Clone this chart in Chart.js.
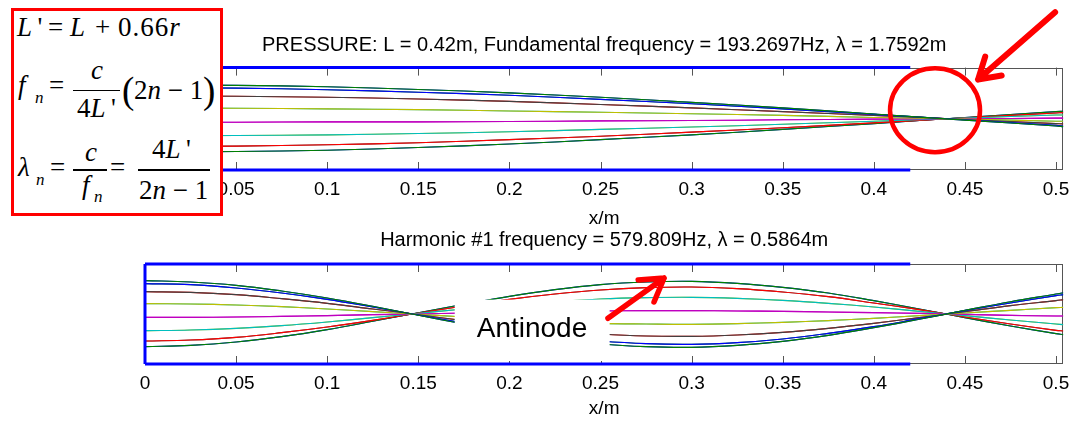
<!DOCTYPE html>
<html>
<head>
<meta charset="utf-8">
<script src="https://cdn.jsdelivr.net/npm/chart.js@4.4.0/dist/chart.umd.min.js"></script>
<style>
body { margin:0; background:#fff; width:1081px; height:427px; overflow:hidden; position:relative; }
canvas { position:absolute; left:0; }
#topChart { top:0; }
#bottomChart { top:214px; }
.box { position:absolute; left:11px; top:8px; width:212px; height:208px; box-sizing:border-box; border:3px solid #ff0000; background:#fff; z-index:2; }
.m { position:absolute; font-family:'Liberation Serif','Times New Roman',serif; font-size:27px; line-height:1; white-space:nowrap; color:#000; z-index:3; }
.s { font-size:17px; }
.p { font-size:37px; }
.bar { position:absolute; height:1.5px; background:#000; z-index:3; }
</style>
</head>
<body>
<canvas id="topChart" width="1081" height="231"></canvas>
<canvas id="bottomChart" width="1081" height="213"></canvas>

<!-- formula box -->
<div class="box"></div>
<div class="m" style="left:17px;top:14.4px"><i>L</i>&thinsp;'</div>
<div class="m" style="left:48px;top:14.4px">=</div>
<div class="m" style="left:70px;top:14.4px"><i>L</i></div>
<div class="m" style="left:95px;top:14.4px">+</div>
<div class="m" style="left:118px;top:14.4px;letter-spacing:1px">0.66<i>r</i></div>

<div class="m" style="left:18px;top:72.4px"><i>f</i></div>
<div class="m s" style="left:35px;top:88.8px"><i>n</i></div>
<div class="m" style="left:49px;top:72.4px">=</div>
<div class="bar" style="left:73px;top:89.5px;width:47px"></div>
<div class="m" style="left:91px;top:57.4px"><i>c</i></div>
<div class="m" style="left:77px;top:95.4px">4<i>L</i>&thinsp;'</div>
<div class="m p" style="left:122px;top:71.5px">(</div>
<div class="m" style="left:134px;top:77.4px">2<i>n</i> − 1</div>
<div class="m p" style="left:203px;top:71.5px">)</div>

<div class="m" style="left:18px;top:154.4px"><i>λ</i></div>
<div class="m s" style="left:36px;top:170.8px"><i>n</i></div>
<div class="m" style="left:50px;top:154.4px">=</div>
<div class="bar" style="left:73px;top:169px;width:34px"></div>
<div class="m" style="left:85px;top:139.4px"><i>c</i></div>
<div class="m" style="left:82px;top:172.4px"><i>f</i></div>
<div class="m s" style="left:94px;top:187.8px"><i>n</i></div>
<div class="m" style="left:110px;top:154.4px">=</div>
<div class="bar" style="left:138px;top:169px;width:72px"></div>
<div class="m" style="left:152px;top:136.4px">4<i>L</i>&thinsp;'</div>
<div class="m" style="left:139px;top:177.4px">2<i>n</i> − 1</div>

<script>
// sample positions along the tube (m)
const xTop = [0, 0.05, 0.1, 0.15, 0.2, 0.25, 0.3, 0.35, 0.4, 0.45, 0.5, 0.504];
const xBottom = [0, 0.025, 0.05, 0.075, 0.1, 0.125, 0.15, 0.175, 0.2, 0.225, 0.25, 0.275,
                 0.3, 0.325, 0.35, 0.375, 0.4, 0.425, 0.45, 0.475, 0.5, 0.504];

// fundamental, pressure at each time step level
const fundA = [1.00, 0.98, 0.94, 0.86, 0.76, 0.63, 0.48, 0.32, 0.14, -0.04, -0.21, -0.23];
const fundB = [0.91, 0.90, 0.85, 0.78, 0.69, 0.57, 0.44, 0.29, 0.13, -0.03, -0.19, -0.21];
const fundC = [0.67, 0.66, 0.63, 0.58, 0.51, 0.42, 0.32, 0.21, 0.10, -0.02, -0.14, -0.15];
const fundD = [0.31, 0.31, 0.29, 0.27, 0.23, 0.19, 0.15, 0.10, 0.04, -0.01, -0.07, -0.07];
const fundE = [-0.10, -0.10, -0.09, -0.09, -0.08, -0.06, -0.05, -0.03, -0.01, 0.00, 0.02, 0.02];
const fundF = [-0.50, -0.49, -0.47, -0.43, -0.38, -0.31, -0.24, -0.16, -0.07, 0.02, 0.11, 0.11];
const fundG = [-0.81, -0.80, -0.76, -0.70, -0.61, -0.51, -0.39, -0.26, -0.12, 0.03, 0.17, 0.18];
const fundH = [-0.98, -0.96, -0.92, -0.84, -0.74, -0.61, -0.47, -0.31, -0.14, 0.04, 0.21, 0.22];

// harmonic #1
const harmA = [1.00, 0.96, 0.86, 0.69, 0.48, 0.23, -0.04, -0.30, -0.54, -0.75, -0.90, -0.98, -1.00, -0.94, -0.82, -0.64, -0.41, -0.16, 0.11, 0.37, 0.60, 0.64];
const harmB = [0.91, 0.88, 0.78, 0.63, 0.44, 0.21, -0.03, -0.27, -0.49, -0.68, -0.81, -0.89, -0.91, -0.86, -0.75, -0.58, -0.38, -0.14, 0.10, 0.33, 0.55, 0.58];
const harmC = [0.67, 0.65, 0.58, 0.46, 0.32, 0.15, -0.02, -0.20, -0.36, -0.50, -0.60, -0.66, -0.67, -0.63, -0.55, -0.43, -0.28, -0.11, 0.07, 0.25, 0.40, 0.43];
const harmD = [0.31, 0.30, 0.27, 0.22, 0.15, 0.07, -0.01, -0.09, -0.17, -0.23, -0.28, -0.30, -0.31, -0.29, -0.25, -0.20, -0.13, -0.05, 0.03, 0.11, 0.19, 0.20];
const harmE = [-0.10, -0.10, -0.09, -0.07, -0.05, -0.02, 0.00, 0.03, 0.05, 0.07, 0.09, 0.10, 0.10, 0.09, 0.08, 0.06, 0.04, 0.02, -0.01, -0.04, -0.06, -0.06];
const harmF = [-0.50, -0.48, -0.43, -0.35, -0.24, -0.11, 0.02, 0.15, 0.27, 0.37, 0.45, 0.49, 0.50, 0.47, 0.41, 0.32, 0.21, 0.08, -0.05, -0.18, -0.30, -0.32];
const harmG = [-0.81, -0.78, -0.70, -0.56, -0.39, -0.19, 0.03, 0.24, 0.44, 0.60, 0.72, 0.79, 0.81, 0.76, 0.66, 0.52, 0.33, 0.13, -0.09, -0.30, -0.49, -0.51];
const harmH = [-0.98, -0.94, -0.84, -0.68, -0.47, -0.22, 0.04, 0.29, 0.53, 0.73, 0.88, 0.96, 0.98, 0.92, 0.80, 0.63, 0.40, 0.15, -0.11, -0.36, -0.59, -0.62];

// which level each of the 16 time steps uses (0..360 deg)
const stepLevel = [0, 1, 2, 3, 4, 5, 6, 7, 7, 6, 5, 4, 3, 2, 1, 0];
const tubeLength = 0.42;
const xTickLabels = ['0', '0.05', '0.1', '0.15', '0.2', '0.25', '0.3', '0.35', '0.4', '0.45', '0.5'];

const topTitle = 'PRESSURE: L = 0.42m, Fundamental frequency = 193.2697Hz, λ = 1.7592m';
const bottomTitle = 'Harmonic #1 frequency = 579.809Hz, λ = 0.5864m';

// matlab colour order
const matlab = ['#0000ff', '#008000', '#ff0000', '#00bfbf', '#bf00bf', '#bfbf00', '#404040'];
const SANS = "'Liberation Sans', Arial, sans-serif";

function waveSets(xs, levels) {
  return stepLevel.map((li, i) => ({
    data: xs.map((x, j) => ({ x: x, y: levels[li][j] })),
    borderColor: matlab[i % 7],
    borderWidth: 1.1,
    pointRadius: 0,
    tension: 0.4,
    order: 30 - i
  }));
}

function tubeSets() {
  const st = { borderColor: '#0000ff', borderWidth: 3, pointRadius: 0, clip: false, order: -1 };
  return [
    Object.assign({ data: [{ x: 0, y: 1.5 }, { x: tubeLength, y: 1.5 }] }, st),
    Object.assign({ data: [{ x: 0, y: -1.5 }, { x: tubeLength, y: -1.5 }] }, st),
    Object.assign({ data: [{ x: 0, y: -1.5 }, { x: 0, y: 1.5 }] }, st)
  ];
}

// axes box with inward ticks, like matlab
const framePlugin = {
  id: 'frame',
  beforeDatasetsDraw(chart) {
    const { ctx, chartArea: a, scales: { x } } = chart;
    ctx.save();
    ctx.strokeStyle = '#555';
    ctx.lineWidth = 1;
    ctx.strokeRect(Math.round(a.left) + 0.5, Math.round(a.top) + 0.5,
      Math.round(a.right - a.left) - 1, Math.round(a.bottom - a.top) - 1);
    ctx.beginPath();
    x.ticks.forEach(t => {
      const px = Math.round(x.getPixelForValue(t.value)) + 0.5;
      ctx.moveTo(px, a.top); ctx.lineTo(px, a.top + 8);
      ctx.moveTo(px, a.bottom); ctx.lineTo(px, a.bottom - 8);
    });
    ctx.stroke();
    ctx.restore();
  }
};

function arrow(ctx, x0, y0, x1, y1, head, width) {
  const ang = Math.atan2(y0 - y1, x0 - x1);
  const spread = 0.55;
  ctx.save();
  ctx.strokeStyle = '#ff0000';
  ctx.lineWidth = width;
  ctx.lineCap = 'round';
  ctx.lineJoin = 'round';
  ctx.beginPath();
  ctx.moveTo(x0, y0); ctx.lineTo(x1, y1);
  ctx.moveTo(x1 + head * Math.cos(ang + spread), y1 + head * Math.sin(ang + spread));
  ctx.lineTo(x1, y1);
  ctx.lineTo(x1 + head * Math.cos(ang - spread), y1 + head * Math.sin(ang - spread));
  ctx.stroke();
  ctx.restore();
}

// red markings added on top of the plots
const notesPlugin = {
  id: 'notes',
  afterDatasetsDraw(chart, args, opts) {
    const { ctx, scales: { x, y } } = chart;
    if (opts.label) {
      const l = opts.label;
      const x0 = x.getPixelForValue(l.x0), x1 = x.getPixelForValue(l.x1);
      const y0 = y.getPixelForValue(l.y0), y1 = y.getPixelForValue(l.y1);
      ctx.save();
      ctx.fillStyle = '#fff';
      ctx.fillRect(x0, y0, x1 - x0, y1 - y0);
      ctx.fillStyle = '#000';
      ctx.font = '28px ' + SANS;
      ctx.textAlign = 'center';
      ctx.textBaseline = 'alphabetic';
      ctx.fillText(l.text, x.getPixelForValue(l.tx), y.getPixelForValue(l.ty));
      ctx.restore();
    }
    if (opts.circle) {
      const c = opts.circle;
      ctx.save();
      ctx.strokeStyle = '#ff0000';
      ctx.lineWidth = 4.5;
      ctx.beginPath();
      ctx.ellipse(x.getPixelForValue(c.x), y.getPixelForValue(c.y), c.rx, c.ry, 0, 0, Math.PI * 2);
      ctx.stroke();
      ctx.restore();
    }
    if (opts.arrow) {
      const r = opts.arrow;
      arrow(ctx, x.getPixelForValue(r.x0), y.getPixelForValue(r.y0),
        x.getPixelForValue(r.x1), y.getPixelForValue(r.y1), r.head, r.width);
    }
  }
};

function makeChart(id, title, xs, levels, lay, notes) {
  return new Chart(document.getElementById(id), {
    type: 'line',
    data: { datasets: waveSets(xs, levels).concat(tubeSets()) },
    options: {
      responsive: false,
      animation: false,
      devicePixelRatio: 1,
      layout: { padding: { left: 145, right: 17.7, top: 0, bottom: 0 } },
      plugins: {
        legend: { display: false },
        tooltip: { enabled: false },
        title: {
          display: true, text: title, color: '#000',
          font: { family: SANS, size: 20, weight: 'normal' },
          padding: lay.title
        },
        notes: notes
      },
      scales: {
        x: {
          type: 'linear', min: 0, max: 0.504,
          grid: { display: false, drawTicks: false },
          border: { display: false },
          ticks: {
            stepSize: 0.05, includeBounds: false, autoSkip: false, maxRotation: 0,
            color: '#000', padding: 8,
            font: { family: SANS, size: 19 },
            callback: (v) => xTickLabels[Math.round(v / 0.05)]
          },
          title: {
            display: true, text: 'x/m', color: '#000',
            font: { family: SANS, size: 19 },
            padding: lay.xTitle
          }
        },
        y: { display: false, min: -1.5, max: 1.5 }
      }
    },
    plugins: [framePlugin, notesPlugin]
  });
}

makeChart('topChart', topTitle, xTop, [fundA, fundB, fundC, fundD, fundE, fundF, fundG, fundH],
  { title: { top: 33, bottom: 10.6 }, xTitle: { top: -1.7, bottom: 1.1 } },
  {
    circle: { x: 0.4336, y: 0.25, rx: 45, ry: 42 },
    arrow: { x0: 0.4995, y0: 3.12, x1: 0.4572, y1: 1.15, head: 24, width: 6 }
  });

makeChart('bottomChart', bottomTitle, xBottom, [harmA, harmB, harmC, harmD, harmE, harmF, harmG, harmH],
  { title: { top: 14.7, bottom: 11.3 }, xTitle: { top: -5.2, bottom: 6.6 } },
  {
    label: { x0: 0.170, x1: 0.255, y0: 0.43, y1: -1.41, text: 'Antinode', tx: 0.2124, ty: -0.70 },
    arrow: { x0: 0.2541, y0: -0.13, x1: 0.2849, y1: 1.08, head: 26, width: 5.5 }
  });
</script>
</body>
</html>
